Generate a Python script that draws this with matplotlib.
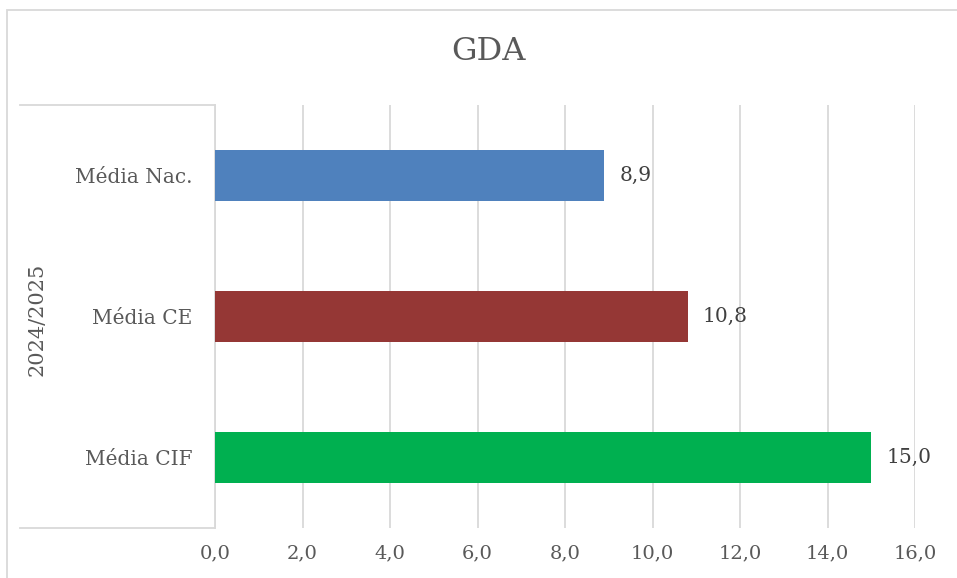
import matplotlib
matplotlib.use("Agg")
import matplotlib.pyplot as plt
from matplotlib.lines import Line2D
from matplotlib.patches import Rectangle

title = "GDA"
group_label = "2024/2025"
categories = ["Média Nac.", "Média CE", "Média CIF"]
values = [8.9, 10.8, 15.0]
colors = ["#4F81BD", "#953735", "#00B050"]
xticks = [0, 2, 4, 6, 8, 10, 12, 14, 16]

W, H = 957, 578
fig = plt.figure(figsize=(W / 100, H / 100), dpi=100)
plt.rcParams["font.family"] = ["DejaVu Serif"]

def fx(px):
    return px / W

def fy(py):
    return 1 - py / H

ax = fig.add_axes([fx(215), fy(528), fx(915) - fx(215), fy(105) - fy(528)])
ypos = list(range(len(categories)))[::-1]
ax.barh(ypos, values, height=0.355, color=colors, zorder=3)
ax.set_xlim(0, 16)
ax.set_ylim(-0.5, len(categories) - 0.5)
ax.set_xticks(xticks)
ax.set_xticklabels([f"{v:.1f}".replace(".", ",") for v in xticks],
                   fontsize=14, color="#595959")
ax.tick_params(axis="x", length=0, pad=12)
ax.set_yticks(ypos)
ax.set_yticklabels(categories, fontsize=14.5, color="#595959")
ax.tick_params(axis="y", length=0, pad=16)
ax.grid(axis="x", color="#D9D9D9", linewidth=1.3, zorder=0)
for s in ["top", "right", "bottom"]:
    ax.spines[s].set_visible(False)
ax.spines["left"].set_color("#D9D9D9")
ax.spines["left"].set_linewidth(1.3)

for y, v in zip(ypos, values):
    ax.text(v + 0.35, y, f"{v:.1f}".replace(".", ","), va="center", ha="left",
            fontsize=14.5, color="#404040")

# multi-level category box
lc = "#D9D9D9"
fig.add_artist(Line2D([fx(20), fx(215)], [fy(105), fy(105)], color=lc, lw=1.3))
fig.add_artist(Line2D([fx(20), fx(215)], [fy(528), fy(528)], color=lc, lw=1.3))
fig.text(fx(37), fy(319), group_label, rotation=90, ha="center", va="center",
         fontsize=15, color="#595959")

# outer chart border
fig.add_artist(Rectangle((fx(7), fy(H + 20)), 1.2, fy(10) - fy(H + 20),
                         transform=fig.transFigure, fill=False,
                         edgecolor="#D9D9D9", lw=1.3, clip_on=False))

fig.text(fx(488), fy(52), title, ha="center", va="center",
         fontsize=23, color="#595959")

fig.savefig("out.png", dpi=100)
